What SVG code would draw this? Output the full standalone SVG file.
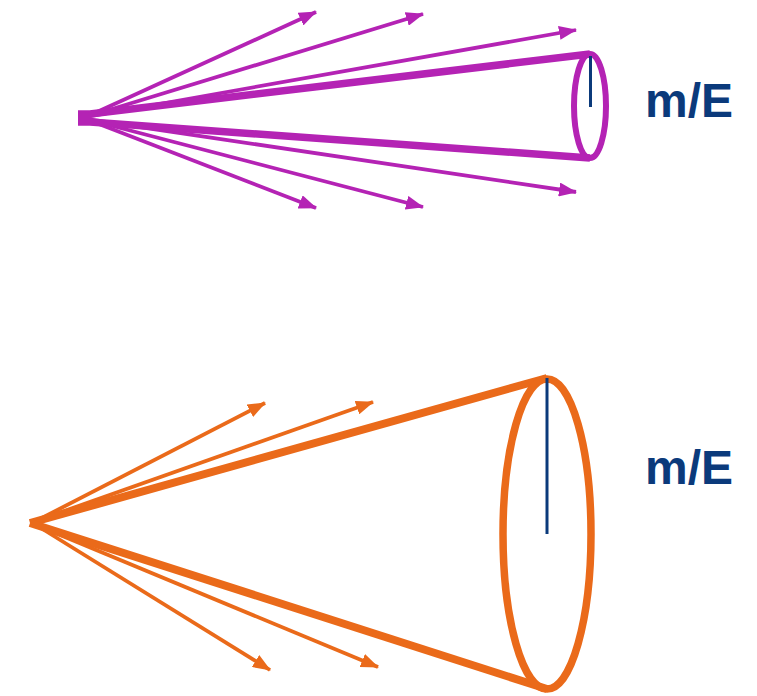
<svg xmlns="http://www.w3.org/2000/svg" width="757" height="696" viewBox="0 0 757 696">
<defs>
<style>
.p{stroke:#B423B4;fill:none}
.o{stroke:#EA6A1A;fill:none}
.thin{stroke-width:3.8}
.cone{stroke-width:8}
.ax{stroke:#0B3A7B;stroke-width:3}
.lbl{font-family:"Liberation Sans",Arial,sans-serif;font-weight:bold;font-size:48px;fill:#0B3A7B}
</style>
<marker id="ap" markerUnits="userSpaceOnUse" viewBox="0 0 18 14" refX="17" refY="7" markerWidth="18" markerHeight="14" orient="auto"><path d="M0,0 L18,7 L0,14 Z" fill="#B423B4"/></marker>
<marker id="ao" markerUnits="userSpaceOnUse" viewBox="0 0 18 14" refX="17" refY="7" markerWidth="18" markerHeight="14" orient="auto"><path d="M0,0 L18,7 L0,14 Z" fill="#EA6A1A"/></marker>
</defs>
<g id="connectors">
<line class="p thin" x1="86" y1="117" x2="316" y2="12" marker-end="url(#ap)"/>
<line class="p thin" x1="86" y1="117" x2="423" y2="14" marker-end="url(#ap)"/>
<line class="p thin" x1="86" y1="117" x2="576" y2="30" marker-end="url(#ap)"/>
<line class="p thin" x1="86" y1="119" x2="576" y2="192" marker-end="url(#ap)"/>
<line class="p thin" x1="86" y1="119" x2="423" y2="207" marker-end="url(#ap)"/>
<line class="p thin" x1="86" y1="119" x2="316" y2="208" marker-end="url(#ap)"/>
<line class="o thin" x1="36" y1="521" x2="265" y2="403" marker-end="url(#ao)"/>
<line class="o thin" x1="36" y1="521" x2="373" y2="402" marker-end="url(#ao)"/>
<line class="o thin" x1="36" y1="525" x2="270" y2="670" marker-end="url(#ao)"/>
<line class="o thin" x1="36" y1="525" x2="378" y2="667" marker-end="url(#ao)"/>
</g>
<g id="cone-top">
<path class="p" d="M78,114 L90,114 L590,54" stroke-width="7.5"/>
<path class="p" d="M78,122 L90,122 L590,158" stroke-width="7.5"/>
<rect x="78" y="114" width="12" height="8" fill="#B423B4"/>
<ellipse class="p" cx="590" cy="106" rx="16" ry="52" stroke-width="6"/>
<line class="ax" x1="590.5" y1="56" x2="590.5" y2="107"/>
</g>
<g id="cone-bottom">
<line class="o cone" x1="30" y1="523" x2="547" y2="378"/>
<line class="o cone" x1="30" y1="523" x2="547" y2="689"/>
<ellipse class="o" cx="547" cy="534" rx="44" ry="155" stroke-width="7.5"/>
<line class="ax" x1="547" y1="378" x2="547" y2="534"/>
</g>
<g id="label-top"><text class="lbl" x="645" y="117">m/E</text></g>
<g id="label-bottom"><text class="lbl" x="645" y="484">m/E</text></g>
</svg>
